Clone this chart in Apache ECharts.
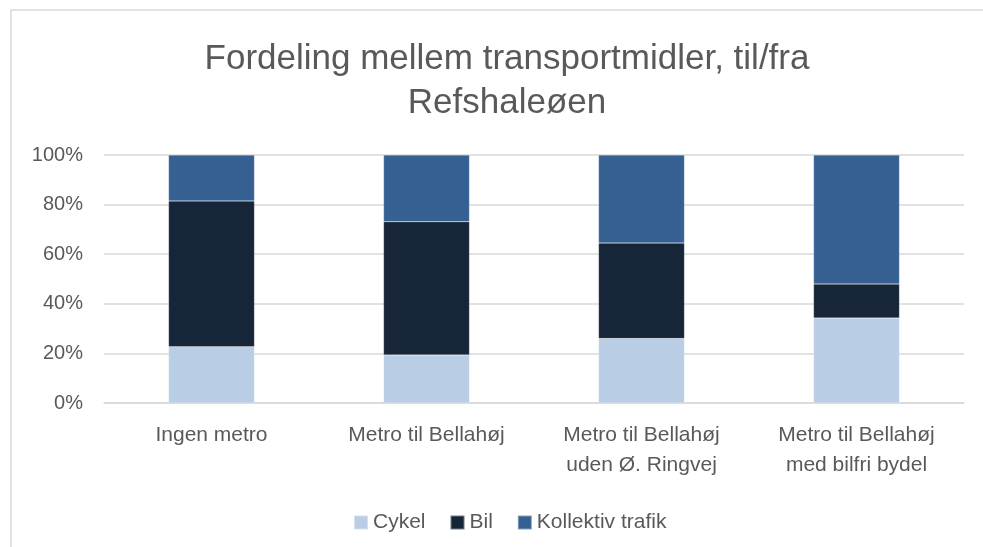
<!DOCTYPE html>
<html>
<head>
<meta charset="utf-8">
<script src="https://cdn.jsdelivr.net/npm/echarts@6/dist/echarts.min.js"></script>
<style>
  html, body { margin: 0; padding: 0; background: #fff; }
  #chart { width: 983px; height: 547px; }
</style>
</head>
<body>
<div id="chart"></div>
<script>
// kategorier og andele (procent)
const categories = [
  'Ingen metro',
  'Metro til Bellahøj',
  'Metro til Bellahøj\nuden Ø. Ringvej',
  'Metro til Bellahøj\nmed bilfri bydel'
];
const cykel = [22.7, 19.4, 26.0, 34.3];
const bil = [58.8, 53.7, 38.5, 13.7];
const kollektiv = [18.5, 26.9, 35.5, 52.0];

const textColor = '#595959';
const fontFamily = '"Liberation Sans", Arial, sans-serif';

const chart = echarts.init(document.getElementById('chart'));
chart.setOption({
  animation: false,
  title: {
    text: 'Fordeling mellem transportmidler, til/fra\nRefshaleøen',
    left: 502,
    top: 32,
    textAlign: 'center',
    textStyle: {
      color: textColor,
      fontFamily: fontFamily,
      fontWeight: 'normal',
      fontSize: 35,
      lineHeight: 44
    }
  },
  // ramme om diagrammet
  graphic: [{
    type: 'rect',
    shape: { x: 11, y: 10, width: 1000, height: 600 },
    style: { fill: 'none', stroke: '#d9d9d9', lineWidth: 1.5 },
    silent: true
  }],
  legend: {
    left: 348,
    top: 507,
    itemWidth: 14,
    itemHeight: 14,
    itemGap: 24,
    icon: 'rect',
    textStyle: { color: textColor, fontFamily: fontFamily, fontSize: 21 },
    data: ['Cykel', 'Bil', 'Kollektiv trafik']
  },
  grid: {
    left: 104,
    right: 19,
    top: 155,
    bottom: 144,
    containLabel: false
  },
  xAxis: {
    type: 'category',
    data: categories,
    axisTick: { show: false },
    axisLine: { lineStyle: { color: '#d9d9d9', width: 1.5 } },
    axisLabel: {
      color: textColor,
      fontFamily: fontFamily,
      fontSize: 21,
      lineHeight: 30,
      margin: 17,
      interval: 0
    }
  },
  yAxis: {
    type: 'value',
    min: 0,
    max: 100,
    interval: 20,
    axisLine: { show: false },
    axisTick: { show: false },
    splitLine: { lineStyle: { color: '#d9d9d9', width: 1.5 } },
    axisLabel: {
      color: textColor,
      fontFamily: fontFamily,
      fontSize: 20,
      margin: 21,
      formatter: '{value}%'
    }
  },
  series: [
    {
      name: 'Cykel',
      type: 'bar',
      stack: 'total',
      barWidth: '40%',
      data: cykel,
      itemStyle: { color: '#b9cde5', borderColor: 'rgba(255,255,255,0.4)', borderWidth: 0.5 }
    },
    {
      name: 'Bil',
      type: 'bar',
      stack: 'total',
      data: bil,
      itemStyle: { color: '#172538', borderColor: 'rgba(255,255,255,0.4)', borderWidth: 0.5 }
    },
    {
      name: 'Kollektiv trafik',
      type: 'bar',
      stack: 'total',
      data: kollektiv,
      itemStyle: { color: '#366092', borderColor: 'rgba(255,255,255,0.4)', borderWidth: 0.5 }
    }
  ]
});
</script>
</body>
</html>
